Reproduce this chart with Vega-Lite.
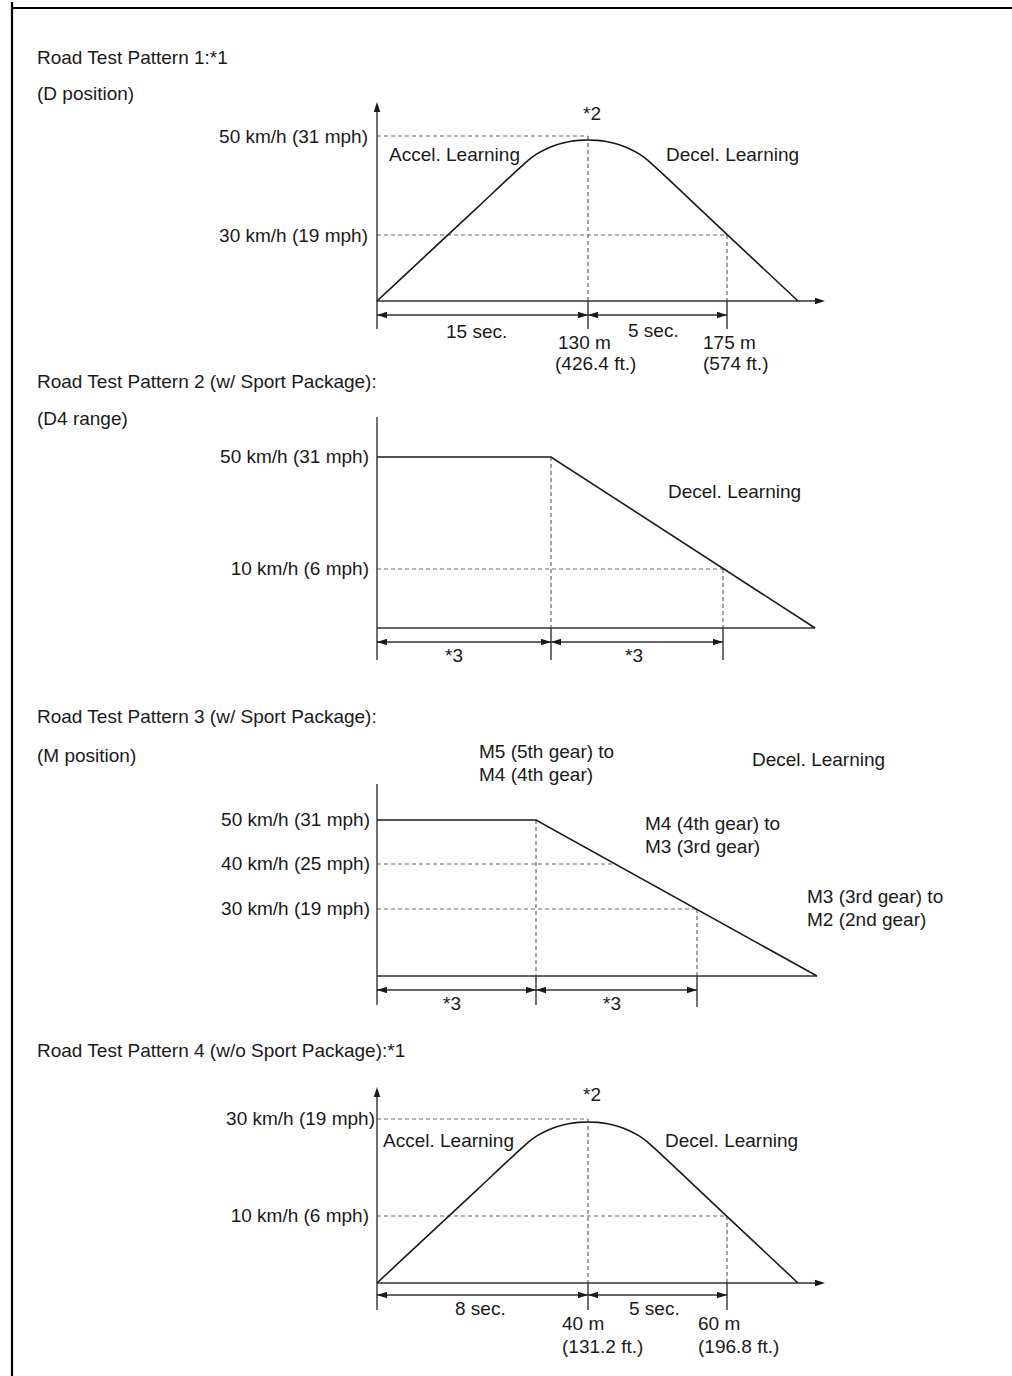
{
  "$schema": "https://vega.github.io/schema/vega-lite/v6.json",
  "padding": 0,
  "spacing": 0,
  "bounds": "flush",
  "background": "white",
  "config": {"view": {"stroke": null}, "concat": {"spacing": 0}},
  "datasets": {
    "frame": [
      {"p": 1, "x": -365, "y": -75, "x2": -365, "y2": 299},
      {"p": 1, "x": -366, "y": 293, "x2": 635, "y2": 293},
      {"p": 2, "x": -365, "y": -74, "x2": -365, "y2": 252},
      {"p": 3, "x": -365, "y": -66, "x2": -365, "y2": 274},
      {"p": 4, "x": -365, "y": -95, "x2": -365, "y2": 241}
    ],
    "rules": [
      {"p": 1, "x": 0, "y": 0, "x2": 0, "y2": 192},
      {"p": 1, "x": 0, "y": 0, "x2": 442, "y2": 0},
      {"p": 1, "x": 0, "y": 0, "x2": 0, "y2": -28},
      {"p": 1, "x": 211, "y": 0, "x2": 211, "y2": -28},
      {"p": 1, "x": 350, "y": 0, "x2": 350, "y2": -28},
      {"p": 1, "x": 0, "y": -14, "x2": 211, "y2": -14},
      {"p": 1, "x": 211, "y": -14, "x2": 350, "y2": -14},
      {"p": 2, "x": 0, "y": 0, "x2": 0, "y2": 211},
      {"p": 2, "x": 0, "y": 0, "x2": 438, "y2": 0},
      {"p": 2, "x": 0, "y": 0, "x2": 0, "y2": -32},
      {"p": 2, "x": 174, "y": 0, "x2": 174, "y2": -32},
      {"p": 2, "x": 346, "y": 0, "x2": 346, "y2": -32},
      {"p": 2, "x": 0, "y": -14, "x2": 174, "y2": -14},
      {"p": 2, "x": 174, "y": -14, "x2": 346, "y2": -14},
      {"p": 3, "x": 0, "y": 0, "x2": 0, "y2": 192},
      {"p": 3, "x": 0, "y": 0, "x2": 440, "y2": 0},
      {"p": 3, "x": 0, "y": 0, "x2": 0, "y2": -29},
      {"p": 3, "x": 159, "y": 0, "x2": 159, "y2": -29},
      {"p": 3, "x": 320, "y": 0, "x2": 320, "y2": -31},
      {"p": 3, "x": 0, "y": -14, "x2": 159, "y2": -14},
      {"p": 3, "x": 159, "y": -14, "x2": 320, "y2": -14},
      {"p": 4, "x": 0, "y": 0, "x2": 0, "y2": 189},
      {"p": 4, "x": 0, "y": 0, "x2": 442, "y2": 0},
      {"p": 4, "x": 0, "y": 0, "x2": 0, "y2": -27},
      {"p": 4, "x": 211, "y": 0, "x2": 211, "y2": -27},
      {"p": 4, "x": 350, "y": 0, "x2": 350, "y2": -27},
      {"p": 4, "x": 0, "y": -12, "x2": 211, "y2": -12},
      {"p": 4, "x": 211, "y": -12, "x2": 350, "y2": -12}
    ],
    "dashes": [
      {"p": 1, "x": 0, "y": 165, "x2": 211, "y2": 165},
      {"p": 1, "x": 211, "y": 165, "x2": 211, "y2": 0},
      {"p": 1, "x": 0, "y": 66, "x2": 350, "y2": 66},
      {"p": 1, "x": 350, "y": 66, "x2": 350, "y2": 0},
      {"p": 2, "x": 0, "y": 59, "x2": 346, "y2": 59},
      {"p": 2, "x": 174, "y": 171, "x2": 174, "y2": 0},
      {"p": 2, "x": 346, "y": 59, "x2": 346, "y2": 0},
      {"p": 3, "x": 0, "y": 112, "x2": 237, "y2": 112},
      {"p": 3, "x": 0, "y": 67, "x2": 320, "y2": 67},
      {"p": 3, "x": 159, "y": 156, "x2": 159, "y2": 0},
      {"p": 3, "x": 320, "y": 67, "x2": 320, "y2": 0},
      {"p": 4, "x": 0, "y": 164, "x2": 211, "y2": 164},
      {"p": 4, "x": 211, "y": 164, "x2": 211, "y2": 0},
      {"p": 4, "x": 0, "y": 67, "x2": 350, "y2": 67},
      {"p": 4, "x": 350, "y": 67, "x2": 350, "y2": 0}
    ],
    "lines": [
      {"p": 1, "k": "curve", "o": 0, "x": 0, "y": 0},
      {"p": 1, "k": "curve", "o": 1, "x": 50, "y": 46.6},
      {"p": 1, "k": "curve", "o": 2, "x": 100, "y": 93.2},
      {"p": 1, "k": "curve", "o": 3, "x": 145, "y": 135.1},
      {"p": 1, "k": "curve", "o": 4, "x": 152, "y": 141.4},
      {"p": 1, "k": "curve", "o": 5, "x": 159.5, "y": 146.8},
      {"p": 1, "k": "curve", "o": 6, "x": 167.5, "y": 151.3},
      {"p": 1, "k": "curve", "o": 7, "x": 175.5, "y": 154.8},
      {"p": 1, "k": "curve", "o": 8, "x": 184, "y": 157.6},
      {"p": 1, "k": "curve", "o": 9, "x": 192.75, "y": 159.5},
      {"p": 1, "k": "curve", "o": 10, "x": 201.7, "y": 160.6},
      {"p": 1, "k": "curve", "o": 11, "x": 211, "y": 161},
      {"p": 1, "k": "curve", "o": 12, "x": 220.3, "y": 160.6},
      {"p": 1, "k": "curve", "o": 13, "x": 229.25, "y": 159.5},
      {"p": 1, "k": "curve", "o": 14, "x": 238, "y": 157.6},
      {"p": 1, "k": "curve", "o": 15, "x": 246.5, "y": 154.8},
      {"p": 1, "k": "curve", "o": 16, "x": 254.5, "y": 151.3},
      {"p": 1, "k": "curve", "o": 17, "x": 262.5, "y": 146.8},
      {"p": 1, "k": "curve", "o": 18, "x": 270, "y": 141.4},
      {"p": 1, "k": "curve", "o": 19, "x": 277, "y": 135.1},
      {"p": 1, "k": "curve", "o": 20, "x": 325, "y": 90.1},
      {"p": 1, "k": "curve", "o": 21, "x": 375, "y": 43.1},
      {"p": 1, "k": "curve", "o": 22, "x": 421, "y": 0},
      {"p": 4, "k": "curve", "o": 0, "x": 0, "y": 0},
      {"p": 4, "k": "curve", "o": 1, "x": 50, "y": 46.6},
      {"p": 4, "k": "curve", "o": 2, "x": 100, "y": 93.2},
      {"p": 4, "k": "curve", "o": 3, "x": 145, "y": 135.1},
      {"p": 4, "k": "curve", "o": 4, "x": 152, "y": 141.4},
      {"p": 4, "k": "curve", "o": 5, "x": 159.5, "y": 146.8},
      {"p": 4, "k": "curve", "o": 6, "x": 167.5, "y": 151.3},
      {"p": 4, "k": "curve", "o": 7, "x": 175.5, "y": 154.8},
      {"p": 4, "k": "curve", "o": 8, "x": 184, "y": 157.6},
      {"p": 4, "k": "curve", "o": 9, "x": 192.75, "y": 159.5},
      {"p": 4, "k": "curve", "o": 10, "x": 201.7, "y": 160.6},
      {"p": 4, "k": "curve", "o": 11, "x": 211, "y": 161},
      {"p": 4, "k": "curve", "o": 12, "x": 220.3, "y": 160.6},
      {"p": 4, "k": "curve", "o": 13, "x": 229.25, "y": 159.5},
      {"p": 4, "k": "curve", "o": 14, "x": 238, "y": 157.6},
      {"p": 4, "k": "curve", "o": 15, "x": 246.5, "y": 154.8},
      {"p": 4, "k": "curve", "o": 16, "x": 254.5, "y": 151.3},
      {"p": 4, "k": "curve", "o": 17, "x": 262.5, "y": 146.8},
      {"p": 4, "k": "curve", "o": 18, "x": 270, "y": 141.4},
      {"p": 4, "k": "curve", "o": 19, "x": 277, "y": 135.1},
      {"p": 4, "k": "curve", "o": 20, "x": 325, "y": 90.1},
      {"p": 4, "k": "curve", "o": 21, "x": 375, "y": 43.1},
      {"p": 4, "k": "curve", "o": 22, "x": 421, "y": 0},
      {"p": 2, "k": "poly", "o": 0, "x": 0, "y": 171},
      {"p": 2, "k": "poly", "o": 1, "x": 174, "y": 171},
      {"p": 2, "k": "poly", "o": 2, "x": 438, "y": 0},
      {"p": 3, "k": "poly", "o": 0, "x": 0, "y": 156},
      {"p": 3, "k": "poly", "o": 1, "x": 159, "y": 156},
      {"p": 3, "k": "poly", "o": 2, "x": 440, "y": 0}
    ],
    "arrows": [
      {"p": 1, "d": "u", "x": 0, "y": 199},
      {"p": 1, "d": "r", "x": 448, "y": 0},
      {"p": 1, "d": "l", "x": 0, "y": -14},
      {"p": 1, "d": "r", "x": 211, "y": -14},
      {"p": 1, "d": "l", "x": 211, "y": -14},
      {"p": 1, "d": "r", "x": 350, "y": -14},
      {"p": 2, "d": "l", "x": 0, "y": -14},
      {"p": 2, "d": "r", "x": 174, "y": -14},
      {"p": 2, "d": "l", "x": 174, "y": -14},
      {"p": 2, "d": "r", "x": 346, "y": -14},
      {"p": 3, "d": "l", "x": 0, "y": -14},
      {"p": 3, "d": "r", "x": 159, "y": -14},
      {"p": 3, "d": "l", "x": 159, "y": -14},
      {"p": 3, "d": "r", "x": 320, "y": -14},
      {"p": 4, "d": "u", "x": 0, "y": 196},
      {"p": 4, "d": "r", "x": 448, "y": 0},
      {"p": 4, "d": "l", "x": 0, "y": -12},
      {"p": 4, "d": "r", "x": 211, "y": -12},
      {"p": 4, "d": "l", "x": 211, "y": -12},
      {"p": 4, "d": "r", "x": 350, "y": -12}
    ],
    "texts": [
      {"p": 1, "r": "note", "t": "Road Test Pattern 1:*1", "x": -340, "y": 237},
      {"p": 1, "r": "note", "t": "(D position)", "x": -340, "y": 201},
      {"p": 1, "r": "note", "t": "Accel. Learning", "x": 12, "y": 140},
      {"p": 1, "r": "note", "t": "Decel. Learning", "x": 289, "y": 140},
      {"p": 1, "r": "note", "t": "*2", "x": 206, "y": 181},
      {"p": 1, "r": "note", "t": "15 sec.", "x": 69, "y": -37},
      {"p": 1, "r": "note", "t": "5 sec.", "x": 251, "y": -36},
      {"p": 1, "r": "note", "t": "130 m", "x": 181, "y": -48},
      {"p": 1, "r": "note", "t": "(426.4 ft.)", "x": 178, "y": -69},
      {"p": 1, "r": "note", "t": "175 m", "x": 326, "y": -48},
      {"p": 1, "r": "note", "t": "(574 ft.)", "x": 326, "y": -69},
      {"p": 1, "r": "label", "t": "50 km/h (31 mph)", "x": -9, "y": 158},
      {"p": 1, "r": "label", "t": "30 km/h (19 mph)", "x": -9, "y": 59},
      {"p": 2, "r": "note", "t": "Road Test Pattern 2 (w/ Sport Package):", "x": -340, "y": 240},
      {"p": 2, "r": "note", "t": "(D4 range)", "x": -340, "y": 203},
      {"p": 2, "r": "note", "t": "Decel. Learning", "x": 291, "y": 130},
      {"p": 2, "r": "note", "t": "*3", "x": 68, "y": -34},
      {"p": 2, "r": "note", "t": "*3", "x": 248, "y": -34},
      {"p": 2, "r": "label", "t": "50 km/h (31 mph)", "x": -8, "y": 165},
      {"p": 2, "r": "label", "t": "10 km/h (6 mph)", "x": -8, "y": 53},
      {"p": 3, "r": "note", "t": "Road Test Pattern 3 (w/ Sport Package):", "x": -340, "y": 253},
      {"p": 3, "r": "note", "t": "(M position)", "x": -340, "y": 214},
      {"p": 3, "r": "note", "t": "M5 (5th gear) to", "x": 102, "y": 218},
      {"p": 3, "r": "note", "t": "M4 (4th gear)", "x": 102, "y": 195},
      {"p": 3, "r": "note", "t": "Decel. Learning", "x": 375, "y": 210},
      {"p": 3, "r": "note", "t": "M4 (4th gear) to", "x": 268, "y": 146},
      {"p": 3, "r": "note", "t": "M3 (3rd gear)", "x": 268, "y": 123},
      {"p": 3, "r": "note", "t": "M3 (3rd gear) to", "x": 430, "y": 73},
      {"p": 3, "r": "note", "t": "M2 (2nd gear)", "x": 430, "y": 50},
      {"p": 3, "r": "note", "t": "*3", "x": 66, "y": -34},
      {"p": 3, "r": "note", "t": "*3", "x": 226, "y": -34},
      {"p": 3, "r": "label", "t": "50 km/h (31 mph)", "x": -7, "y": 150},
      {"p": 3, "r": "label", "t": "40 km/h (25 mph)", "x": -7, "y": 106},
      {"p": 3, "r": "label", "t": "30 km/h (19 mph)", "x": -7, "y": 61},
      {"p": 4, "r": "note", "t": "Road Test Pattern 4 (w/o Sport Package):*1", "x": -340, "y": 226},
      {"p": 4, "r": "note", "t": "Accel. Learning", "x": 6, "y": 136},
      {"p": 4, "r": "note", "t": "Decel. Learning", "x": 288, "y": 136},
      {"p": 4, "r": "note", "t": "*2", "x": 206, "y": 182},
      {"p": 4, "r": "note", "t": "8 sec.", "x": 78, "y": -32},
      {"p": 4, "r": "note", "t": "5 sec.", "x": 252, "y": -32},
      {"p": 4, "r": "note", "t": "40 m", "x": 185, "y": -47},
      {"p": 4, "r": "note", "t": "(131.2 ft.)", "x": 185, "y": -70},
      {"p": 4, "r": "note", "t": "60 m", "x": 321, "y": -47},
      {"p": 4, "r": "note", "t": "(196.8 ft.)", "x": 321, "y": -70},
      {"p": 4, "r": "label", "t": "30 km/h (19 mph)", "x": -2, "y": 158},
      {"p": 4, "r": "label", "t": "10 km/h (6 mph)", "x": -8, "y": 61}
    ]
  },
  "vconcat": [
    {
      "width": 1012, "height": 374,
      "encoding": {
        "x": {"field": "x", "type": "quantitative", "scale": {"domain": [-377, 635], "nice": false, "zero": false}, "axis": null},
        "y": {"field": "y", "type": "quantitative", "scale": {"domain": [-75, 299], "nice": false, "zero": false}, "axis": null}
      },
      "layer": [
        {"data": {"name": "frame"}, "transform": [{"filter": "datum.p == 1"}], "mark": {"type": "rule", "color": "#000000", "strokeWidth": 2.2}, "encoding": {"x2": {"field": "x2"}, "y2": {"field": "y2"}}},
        {"data": {"name": "dashes"}, "transform": [{"filter": "datum.p == 1"}], "mark": {"type": "rule", "color": "#666666", "strokeWidth": 1.2, "strokeDash": [4, 3]}, "encoding": {"x2": {"field": "x2"}, "y2": {"field": "y2"}}},
        {"data": {"name": "rules"}, "transform": [{"filter": "datum.p == 1"}], "mark": {"type": "rule", "color": "#333333", "strokeWidth": 1.4}, "encoding": {"x2": {"field": "x2"}, "y2": {"field": "y2"}}},
        {"data": {"name": "lines"}, "transform": [{"filter": "datum.p == 1 && datum.k == 'curve'"}], "mark": {"type": "line", "color": "#1a1a1a", "strokeWidth": 1.6, "interpolate": "monotone"}, "encoding": {"order": {"field": "o", "type": "quantitative"}}},
        {"data": {"name": "arrows"}, "transform": [{"filter": "datum.p == 1"}], "mark": {"type": "point", "filled": true, "opacity": 1, "size": 400, "color": "#1a1a1a", "strokeWidth": 0}, "encoding": {"shape": {"field": "d", "type": "nominal", "scale": {"domain": ["r", "l", "u"], "range": ["M0,0L-1,-0.32L-1,0.32Z", "M0,0L1,-0.32L1,0.32Z", "M0,0L-0.32,1L0.32,1Z"]}, "legend": null}}},
        {"data": {"name": "texts"}, "transform": [{"filter": "datum.p == 1 && datum.r == 'note'"}], "mark": {"type": "text", "align": "left", "baseline": "alphabetic", "font": "Liberation Sans", "fontSize": 19, "color": "#1a1a1a"}, "encoding": {"text": {"field": "t"}}},
        {"data": {"name": "texts"}, "transform": [{"filter": "datum.p == 1 && datum.r == 'label'"}], "mark": {"type": "text", "align": "right", "baseline": "alphabetic", "font": "Liberation Sans", "fontSize": 19, "color": "#1a1a1a"}, "encoding": {"text": {"field": "t"}}}
      ]
    },
    {
      "width": 1012, "height": 326,
      "encoding": {
        "x": {"field": "x", "type": "quantitative", "scale": {"domain": [-377, 635], "nice": false, "zero": false}, "axis": null},
        "y": {"field": "y", "type": "quantitative", "scale": {"domain": [-74, 252], "nice": false, "zero": false}, "axis": null}
      },
      "layer": [
        {"data": {"name": "frame"}, "transform": [{"filter": "datum.p == 2"}], "mark": {"type": "rule", "color": "#000000", "strokeWidth": 2.2}, "encoding": {"x2": {"field": "x2"}, "y2": {"field": "y2"}}},
        {"data": {"name": "dashes"}, "transform": [{"filter": "datum.p == 2"}], "mark": {"type": "rule", "color": "#666666", "strokeWidth": 1.2, "strokeDash": [4, 3]}, "encoding": {"x2": {"field": "x2"}, "y2": {"field": "y2"}}},
        {"data": {"name": "rules"}, "transform": [{"filter": "datum.p == 2"}], "mark": {"type": "rule", "color": "#333333", "strokeWidth": 1.4}, "encoding": {"x2": {"field": "x2"}, "y2": {"field": "y2"}}},
        {"data": {"name": "lines"}, "transform": [{"filter": "datum.p == 2 && datum.k == 'poly'"}], "mark": {"type": "line", "color": "#1a1a1a", "strokeWidth": 1.6}, "encoding": {"order": {"field": "o", "type": "quantitative"}}},
        {"data": {"name": "arrows"}, "transform": [{"filter": "datum.p == 2"}], "mark": {"type": "point", "filled": true, "opacity": 1, "size": 400, "color": "#1a1a1a", "strokeWidth": 0}, "encoding": {"shape": {"field": "d", "type": "nominal", "scale": {"domain": ["r", "l", "u"], "range": ["M0,0L-1,-0.32L-1,0.32Z", "M0,0L1,-0.32L1,0.32Z", "M0,0L-0.32,1L0.32,1Z"]}, "legend": null}}},
        {"data": {"name": "texts"}, "transform": [{"filter": "datum.p == 2 && datum.r == 'note'"}], "mark": {"type": "text", "align": "left", "baseline": "alphabetic", "font": "Liberation Sans", "fontSize": 19, "color": "#1a1a1a"}, "encoding": {"text": {"field": "t"}}},
        {"data": {"name": "texts"}, "transform": [{"filter": "datum.p == 2 && datum.r == 'label'"}], "mark": {"type": "text", "align": "right", "baseline": "alphabetic", "font": "Liberation Sans", "fontSize": 19, "color": "#1a1a1a"}, "encoding": {"text": {"field": "t"}}}
      ]
    },
    {
      "width": 1012, "height": 340,
      "encoding": {
        "x": {"field": "x", "type": "quantitative", "scale": {"domain": [-377, 635], "nice": false, "zero": false}, "axis": null},
        "y": {"field": "y", "type": "quantitative", "scale": {"domain": [-66, 274], "nice": false, "zero": false}, "axis": null}
      },
      "layer": [
        {"data": {"name": "frame"}, "transform": [{"filter": "datum.p == 3"}], "mark": {"type": "rule", "color": "#000000", "strokeWidth": 2.2}, "encoding": {"x2": {"field": "x2"}, "y2": {"field": "y2"}}},
        {"data": {"name": "dashes"}, "transform": [{"filter": "datum.p == 3"}], "mark": {"type": "rule", "color": "#666666", "strokeWidth": 1.2, "strokeDash": [4, 3]}, "encoding": {"x2": {"field": "x2"}, "y2": {"field": "y2"}}},
        {"data": {"name": "rules"}, "transform": [{"filter": "datum.p == 3"}], "mark": {"type": "rule", "color": "#333333", "strokeWidth": 1.4}, "encoding": {"x2": {"field": "x2"}, "y2": {"field": "y2"}}},
        {"data": {"name": "lines"}, "transform": [{"filter": "datum.p == 3 && datum.k == 'poly'"}], "mark": {"type": "line", "color": "#1a1a1a", "strokeWidth": 1.6}, "encoding": {"order": {"field": "o", "type": "quantitative"}}},
        {"data": {"name": "arrows"}, "transform": [{"filter": "datum.p == 3"}], "mark": {"type": "point", "filled": true, "opacity": 1, "size": 400, "color": "#1a1a1a", "strokeWidth": 0}, "encoding": {"shape": {"field": "d", "type": "nominal", "scale": {"domain": ["r", "l", "u"], "range": ["M0,0L-1,-0.32L-1,0.32Z", "M0,0L1,-0.32L1,0.32Z", "M0,0L-0.32,1L0.32,1Z"]}, "legend": null}}},
        {"data": {"name": "texts"}, "transform": [{"filter": "datum.p == 3 && datum.r == 'note'"}], "mark": {"type": "text", "align": "left", "baseline": "alphabetic", "font": "Liberation Sans", "fontSize": 19, "color": "#1a1a1a"}, "encoding": {"text": {"field": "t"}}},
        {"data": {"name": "texts"}, "transform": [{"filter": "datum.p == 3 && datum.r == 'label'"}], "mark": {"type": "text", "align": "right", "baseline": "alphabetic", "font": "Liberation Sans", "fontSize": 19, "color": "#1a1a1a"}, "encoding": {"text": {"field": "t"}}}
      ]
    },
    {
      "width": 1012, "height": 336,
      "encoding": {
        "x": {"field": "x", "type": "quantitative", "scale": {"domain": [-377, 635], "nice": false, "zero": false}, "axis": null},
        "y": {"field": "y", "type": "quantitative", "scale": {"domain": [-95, 241], "nice": false, "zero": false}, "axis": null}
      },
      "layer": [
        {"data": {"name": "frame"}, "transform": [{"filter": "datum.p == 4"}], "mark": {"type": "rule", "color": "#000000", "strokeWidth": 2.2}, "encoding": {"x2": {"field": "x2"}, "y2": {"field": "y2"}}},
        {"data": {"name": "dashes"}, "transform": [{"filter": "datum.p == 4"}], "mark": {"type": "rule", "color": "#666666", "strokeWidth": 1.2, "strokeDash": [4, 3]}, "encoding": {"x2": {"field": "x2"}, "y2": {"field": "y2"}}},
        {"data": {"name": "rules"}, "transform": [{"filter": "datum.p == 4"}], "mark": {"type": "rule", "color": "#333333", "strokeWidth": 1.4}, "encoding": {"x2": {"field": "x2"}, "y2": {"field": "y2"}}},
        {"data": {"name": "lines"}, "transform": [{"filter": "datum.p == 4 && datum.k == 'curve'"}], "mark": {"type": "line", "color": "#1a1a1a", "strokeWidth": 1.6, "interpolate": "monotone"}, "encoding": {"order": {"field": "o", "type": "quantitative"}}},
        {"data": {"name": "arrows"}, "transform": [{"filter": "datum.p == 4"}], "mark": {"type": "point", "filled": true, "opacity": 1, "size": 400, "color": "#1a1a1a", "strokeWidth": 0}, "encoding": {"shape": {"field": "d", "type": "nominal", "scale": {"domain": ["r", "l", "u"], "range": ["M0,0L-1,-0.32L-1,0.32Z", "M0,0L1,-0.32L1,0.32Z", "M0,0L-0.32,1L0.32,1Z"]}, "legend": null}}},
        {"data": {"name": "texts"}, "transform": [{"filter": "datum.p == 4 && datum.r == 'note'"}], "mark": {"type": "text", "align": "left", "baseline": "alphabetic", "font": "Liberation Sans", "fontSize": 19, "color": "#1a1a1a"}, "encoding": {"text": {"field": "t"}}},
        {"data": {"name": "texts"}, "transform": [{"filter": "datum.p == 4 && datum.r == 'label'"}], "mark": {"type": "text", "align": "right", "baseline": "alphabetic", "font": "Liberation Sans", "fontSize": 19, "color": "#1a1a1a"}, "encoding": {"text": {"field": "t"}}}
      ]
    }
  ]
}
